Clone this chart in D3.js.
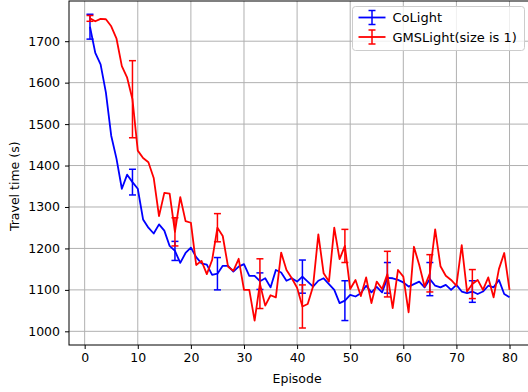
<!DOCTYPE html>
<html>
<head>
<meta charset="utf-8">
<script src="https://cdn.jsdelivr.net/npm/d3@7"></script>
<style>
  html, body { margin: 0; padding: 0; background: #fff; }
  svg { display: block; font-family: "DejaVu Sans", sans-serif; }
</style>
</head>
<body>
<div id="chart"></div>
<script>
// episodes 1..80
var episodes = d3.range(1, 81);

var colight = [
    1735, 1672, 1644, 1576, 1472, 1416, 1344, 1378, 1360, 1344,
    1270, 1250, 1236, 1258, 1243, 1206, 1194, 1165, 1189, 1202,
    1179, 1164, 1161, 1136, 1139, 1158, 1158, 1144, 1156, 1162,
    1134, 1134, 1121, 1128, 1106, 1148, 1142, 1122, 1128, 1120,
    1132, 1120, 1108, 1122, 1128, 1114, 1100, 1068, 1074, 1088,
    1084, 1092, 1110, 1094, 1107, 1094, 1129, 1128, 1124, 1118,
    1108, 1114, 1120, 1106, 1126, 1110, 1106, 1112, 1100, 1112,
    1096, 1092, 1096, 1090, 1096, 1110, 1106, 1124, 1090, 1082
];

var gmslight = [
    1755, 1748, 1754, 1753, 1736, 1706, 1640, 1612, 1560, 1436,
    1418, 1408, 1370, 1278, 1334, 1332, 1240, 1324, 1266, 1262,
    1160, 1170, 1138, 1172, 1250, 1230, 1156, 1146, 1175, 1100,
    1100, 1026, 1115, 1062, 1087, 1082, 1190, 1148, 1128, 1105,
    1060, 1066, 1108, 1234, 1140, 1120, 1250, 1174, 1206, 1102,
    1124, 1085, 1130, 1068, 1120, 1102, 1138, 1056, 1148, 1132,
    1046, 1204, 1160, 1108, 1140, 1246, 1157, 1134, 1124, 1110,
    1208, 1096, 1114, 1124, 1100, 1130, 1082, 1150, 1189, 1100
];

// error bars shown on every 8th episode (1, 9, 17, ...)
var errEpisodes = [1, 9, 17, 25, 33, 41, 49, 57, 65, 73];
var colightErr = [30, 31, 23, 39, 20, 40, 48, 37, 40, 26];
var gmslightErr = [7, 93, 34, 34, 60, 52, 40, 55, 45, 35];

var xTicks = [0, 10, 20, 30, 40, 50, 60, 70, 80];
var yTicks = [1000, 1100, 1200, 1300, 1400, 1500, 1600, 1700];

var series = [
    { name: 'CoLight', color: '#0000ff', values: colight, err: colightErr },
    { name: 'GMSLight(size is 1)', color: '#ff0000', values: gmslight, err: gmslightErr }
];

var width = 528, height = 392;
var plot = { left: 69, right: 530.5, top: 1, bottom: 345 };
var fontSize = 12.5;

var x = d3.scaleLinear().domain([-2.95, 83.95]).range([plot.left, plot.right]);
var y = d3.scaleLinear().domain([967, 1797]).range([plot.bottom, plot.top]);

var svg = d3.select('#chart')
    .append('svg')
    .attr('width', width)
    .attr('height', height);

// grid
var grid = svg.append('g').attr('stroke', '#b0b0b0').attr('stroke-width', 1);
grid.selectAll('.gx').data(xTicks).enter().append('line')
    .attr('x1', function (d) { return x(d); })
    .attr('x2', function (d) { return x(d); })
    .attr('y1', plot.top)
    .attr('y2', plot.bottom);
grid.selectAll('.gy').data(yTicks).enter().append('line')
    .attr('x1', plot.left)
    .attr('x2', plot.right)
    .attr('y1', function (d) { return y(d); })
    .attr('y2', function (d) { return y(d); });

// data lines + error bars
var line = d3.line()
    .x(function (d, i) { return x(episodes[i]); })
    .y(function (d) { return y(d); });

series.forEach(function (s) {
    var g = svg.append('g');
    g.append('path')
        .datum(s.values)
        .attr('d', line)
        .attr('fill', 'none')
        .attr('stroke', s.color)
        .attr('stroke-width', 1.8)
        .attr('stroke-linejoin', 'round');

    var bars = g.selectAll('.err')
        .data(errEpisodes)
        .enter()
        .append('g')
        .attr('stroke', s.color)
        .attr('stroke-width', 1.5);
    var cap = 3.5;
    bars.each(function (ep, i) {
        var v = s.values[ep - 1];
        var e = s.err[i];
        var cx = x(ep);
        var b = d3.select(this);
        b.append('line').attr('x1', cx).attr('x2', cx).attr('y1', y(v - e)).attr('y2', y(v + e));
        b.append('line').attr('x1', cx - cap).attr('x2', cx + cap).attr('y1', y(v - e)).attr('y2', y(v - e));
        b.append('line').attr('x1', cx - cap).attr('x2', cx + cap).attr('y1', y(v + e)).attr('y2', y(v + e));
    });
});

// axes
var xAxis = d3.axisBottom(x).tickValues(xTicks).tickSize(4).tickPadding(4).tickFormat(d3.format('d'));
var yAxis = d3.axisLeft(y).tickValues(yTicks).tickSize(4).tickPadding(5).tickFormat(d3.format('d'));

var gx = svg.append('g')
    .attr('transform', 'translate(0,' + plot.bottom + ')')
    .call(xAxis);
var gy = svg.append('g')
    .attr('transform', 'translate(' + plot.left + ',0)')
    .call(yAxis);

[gx, gy].forEach(function (g) {
    g.select('.domain').remove();
    g.selectAll('.tick line').attr('stroke', '#000').attr('stroke-width', 1);
    g.selectAll('.tick text')
        .attr('fill', '#000')
        .attr('font-size', fontSize)
        .attr('font-family', '"DejaVu Sans", sans-serif');
});

// frame
svg.append('rect')
    .attr('x', plot.left)
    .attr('y', plot.top)
    .attr('width', plot.right - plot.left)
    .attr('height', plot.bottom - plot.top)
    .attr('fill', 'none')
    .attr('stroke', '#000')
    .attr('stroke-width', 1);

// axis labels
svg.append('text')
    .attr('x', x(40))
    .attr('y', 383)
    .attr('text-anchor', 'middle')
    .attr('font-size', fontSize)
    .text('Episode');

svg.append('text')
    .attr('transform', 'translate(19,' + y(1350) + ') rotate(-90)')
    .attr('text-anchor', 'middle')
    .attr('font-size', fontSize)
    .text('Travel time (s)');

// legend
var legend = svg.append('g').attr('transform', 'translate(352.5,6.5)');
legend.append('rect')
    .attr('width', 172)
    .attr('height', 44)
    .attr('rx', 3)
    .attr('fill', '#fff')
    .attr('fill-opacity', 0.8)
    .attr('stroke', '#cccccc');

var items = legend.selectAll('.item')
    .data(series)
    .enter()
    .append('g')
    .attr('transform', function (d, i) { return 'translate(0,' + (11 + i * 19.5) + ')'; });

items.append('line')
    .attr('x1', 6).attr('x2', 33).attr('y1', 0).attr('y2', 0)
    .attr('stroke', function (d) { return d.color; })
    .attr('stroke-width', 1.8);
items.append('line')
    .attr('x1', 19.5).attr('x2', 19.5).attr('y1', -7).attr('y2', 7)
    .attr('stroke', function (d) { return d.color; })
    .attr('stroke-width', 1.5);
items.append('line')
    .attr('x1', 16).attr('x2', 23).attr('y1', -7).attr('y2', -7)
    .attr('stroke', function (d) { return d.color; })
    .attr('stroke-width', 1.5);
items.append('line')
    .attr('x1', 16).attr('x2', 23).attr('y1', 7).attr('y2', 7)
    .attr('stroke', function (d) { return d.color; })
    .attr('stroke-width', 1.5);
items.append('text')
    .attr('x', 40)
    .attr('y', 0)
    .attr('dy', '0.35em')
    .attr('font-size', 13)
    .text(function (d) { return d.name; });
</script>
</body>
</html>
